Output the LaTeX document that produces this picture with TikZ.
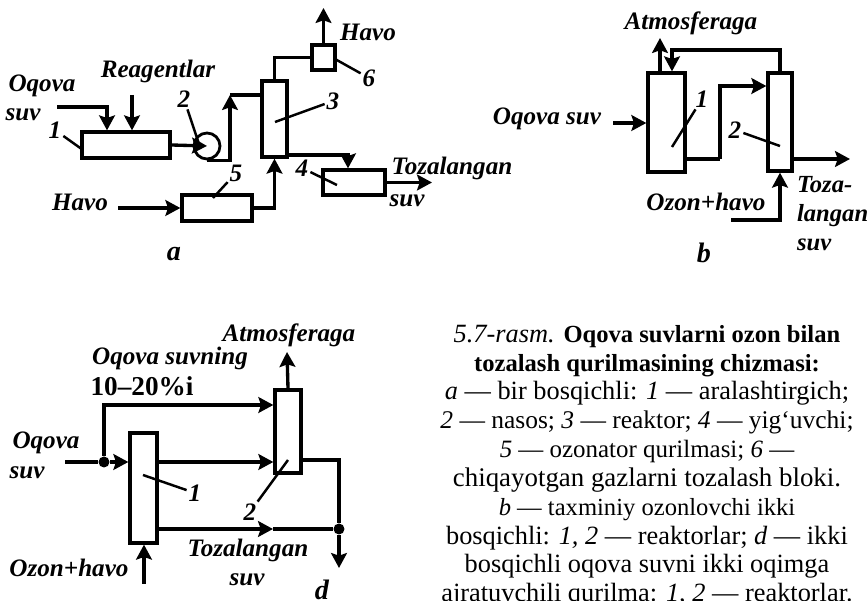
\documentclass[tikz,border=0pt]{standalone}
\usepackage{fontspec}
\setmainfont{Liberation Serif}
\usepackage{tikz}
\usetikzlibrary{positioning, arrows.meta}

\newcommand{\capbold}[1]{{\fontsize{14}{16.4}\selectfont\bfseries #1}}
\newcommand{\capsize}[1]{\fontsize{#1}{16.4}\selectfont}

\begin{document}
\begin{tikzpicture}[
        x = 0.02cm,
        y = -0.02cm,
        every node/.style = {
            inner sep = 1pt,
            font = \fontsize{14.3}{16}\selectfont\bfseries\itshape
        },
        unit/.style = {
            draw,
            rectangle,
            line width = 1.9pt,
            inner sep = 0pt
        },
        pumpunit/.style = {
            draw,
            circle,
            line width = 1.6pt,
            inner sep = 0pt,
            minimum size = 0.52cm
        },
        pipe/.style = {line width = 1.9pt},
        flow/.style = {
            line width = 1.9pt,
            -{Stealth[length = 8.5pt, width = 9pt, inset = 1.5pt]}
        },
        leader/.style = {line width = 1.4pt},
        junction/.style = {
            fill,
            circle,
            inner sep = 0pt,
            minimum size = 0.22cm
        },
        plate/.style = {font = \fontsize{16}{18}\selectfont\bfseries\itshape},
        caption/.style = {
            align = center,
            font = \fontsize{15}{16.4}\selectfont
        }
    ]
        \path[use as bounding box, clip] (0,0) rectangle (867,601);

        \node[unit, minimum width = 1.76cm, minimum height = 0.52cm] (mixerA) at (126,145) {};
        \node[pumpunit] (pumpA) at (207,146) {};
        \node[unit, minimum width = 0.5cm, minimum height = 1.52cm] (reactorA) at (274.5,119) {};
        \node[unit, minimum width = 0.46cm, minimum height = 0.5cm] (scrubberA) at (323.5,57.5) {};
        \node[unit, minimum width = 1.24cm, minimum height = 0.5cm] (collectorA) at (354,182.5) {};
        \node[unit, minimum width = 1.4cm, minimum height = 0.52cm] (ozonatorA) at (217,208) {};

        \node (oqovaA) at (42,86) {Oqova};
        \node (suvA) at (23,115) {suv};
        \node (reagentA) at (158,71) {Reagentlar};
        \node (havoTopA) at (368,32) {Havo};
        \node (havoLowA) at (80,202) {Havo};
        \node (cleanA) at (452,168) {Tozalangan};
        \node (cleanSuvA) at (407,201) {suv};
        \node (numOneA) at (55,130) {1};
        \node (numTwoA) at (184,99) {2};
        \node (numThreeA) at (333,101) {3};
        \node (numFourA) at (302,168) {4};
        \node (numFiveA) at (236,173) {5};
        \node (numSixA) at (369,78) {6};
        \node[plate] (plateA) at (174,254) {a};

        \coordinate (inA) at (57,107);
        \coordinate (reagentInA) at (132,95);
        \coordinate (riseA) at (230,95);
        \coordinate (ventA) at (323.5,8);
        \coordinate (airInA) at (118,208);
        \coordinate (outA) at (432,182.5);
        \coordinate (tipOneA) at (83,150);
        \coordinate (tipTwoA) at (200,147);
        \coordinate (tipThreeA) at (275,122);
        \coordinate (tipFourA) at (337,185);
        \coordinate (tipFiveA) at (213,198);
        \coordinate (tipSixA) at (335,59);

        \draw[flow] (inA) -| ([xshift = -0.38cm]mixerA.north);
        \draw[flow] (reagentInA) -- (reagentInA |- mixerA.north);
        \draw[flow] (mixerA.east) -- (pumpA.center);
        \draw[flow] (pumpA.south) -| (riseA);
        \draw[pipe] (riseA) -- (riseA -| reactorA.west);
        \draw[pipe] (reactorA.north) |- (scrubberA.west);
        \draw[flow] (scrubberA.north) -- (ventA);
        \draw[flow] ([yshift = -0.72cm]reactorA.east) -| ([xshift = -0.12cm]collectorA.north);
        \draw[flow] (collectorA.east) -- (outA);
        \draw[flow] (airInA) -- (ozonatorA.west);
        \draw[flow] (ozonatorA.east) -| (reactorA.south);
        \draw[leader] (numOneA) -- (tipOneA);
        \draw[leader] (numTwoA) -- (tipTwoA);
        \draw[leader] (numThreeA) -- (tipThreeA);
        \draw[leader] (numFourA) -- (tipFourA);
        \draw[leader] (numFiveA) -- (tipFiveA);
        \draw[leader] (numSixA) -- (tipSixA);

        \node[unit, minimum width = 0.74cm, minimum height = 1.98cm] (reactorOneB) at (666.5,122.5) {};
        \node[unit, minimum width = 0.48cm, minimum height = 1.96cm] (reactorTwoB) at (780,122) {};

        \node (atmB) at (691,23) {Atmosferaga};
        \node (oqovaB) at (547,119) {Oqova suv};
        \node (ozonB) at (706,202) {Ozon+havo};
        \node[align = left, anchor = north west, font = \fontsize{14}{16.7}\selectfont\bfseries\itshape] (cleanB) at (795,174) {Toza-\\langan\\suv};
        \node (numOneB) at (702,99) {1};
        \node (numTwoB) at (735,130) {2};
        \node[plate] (plateB) at (704,253) {b};

        \coordinate (ventB) at (660,38);
        \coordinate (inB) at (613,123);
        \coordinate (linkB) at (720,159);
        \coordinate (outB) at (850,159);
        \coordinate (ozonInB) at (731,220);
        \coordinate (returnB) at (672,50);
        \coordinate (tipOneB) at (672,147);
        \coordinate (tipTwoB) at (780,146);

        \draw[flow] (ventB |- reactorOneB.north) -- (ventB);
        \draw[flow] (reactorTwoB.north) |- (returnB) -- (returnB |- reactorOneB.north);
        \draw[pipe] (reactorOneB.east |- linkB) -- (linkB);
        \draw[flow] (linkB) |- ([yshift = 0.72cm]reactorTwoB.west);
        \draw[flow] (inB) -- (inB -| reactorOneB.west);
        \draw[flow] (reactorTwoB.east |- outB) -- (outB);
        \draw[flow] (ozonInB) -| (reactorTwoB.south);
        \draw[leader] (numOneB) -- (tipOneB);
        \draw[leader] (numTwoB) -- (tipTwoB);

        \node[unit, minimum width = 0.54cm, minimum height = 2.2cm] (reactorOneD) at (143.5,488) {};
        \node[unit, minimum width = 0.52cm, minimum height = 1.66cm] (reactorTwoD) at (288,431.5) {};
        \node[junction] (splitD) at (104,462) {};
        \node[junction] (mergeD) at (339,529) {};

        \node (atmD) at (289,335) {Atmosferaga};
        \node (partD) at (170,358) {Oqova suvning};
        \node[font = \fontsize{15.5}{16}\selectfont\bfseries] (shareD) at (142,386) {10--20\%i};
        \node (oqovaD) at (46,443) {Oqova};
        \node (suvD) at (27,473) {suv};
        \node (ozonD) at (69,568) {Ozon+havo};
        \node (cleanD) at (248,550) {Tozalangan};
        \node (cleanSuvD) at (247,580) {suv};
        \node (numOneD) at (195,493) {1};
        \node (numTwoD) at (250,512) {2};
        \node[plate] (plateD) at (322,590) {d};

        \coordinate (inD) at (65,462);
        \coordinate (ventD) at (287,352);
        \coordinate (ozonInD) at (144,584);
        \coordinate (bendD) at (339,460);
        \coordinate (midD) at (273,529);
        \coordinate (outD) at (339,568);
        \coordinate (tipOneD) at (143,475);
        \coordinate (tipTwoD) at (288,460);

        \draw[pipe] (inD) -- (splitD);
        \draw[flow] (splitD) -- (splitD -| reactorOneD.west);
        \draw[flow] (splitD) |- ([yshift = 0.53cm]reactorTwoD.west);
        \draw[flow] (reactorOneD.east |- splitD) -- (reactorTwoD.west |- splitD);
        \draw[flow] (reactorTwoD.north) -- (ventD);
        \draw[pipe] (reactorTwoD.east |- bendD) -- (bendD) -- (mergeD);
        \draw[flow] (mergeD) -- (outD);
        \draw[flow] (reactorOneD.east |- midD) -- (midD);
        \draw[pipe] (midD) -- (mergeD);
        \draw[flow] (ozonInD) -- (ozonInD |- reactorOneD.south);
        \draw[leader] (numOneD) -- (tipOneD);
        \draw[leader] (numTwoD) -- (tipTwoD);

        \node[caption, anchor = north] (captionText) at (647,323) {
            {\itshape 5.7-rasm.} \capbold{Oqova suvlarni ozon bilan}\\
            \capbold{tozalash qurilmasining chizmasi:}\\
            {\itshape a} --- bir bosqichli: {\itshape 1} --- aralashtirgich;\\
            {\capsize{14.5}{\itshape 2} --- nasos; {\itshape 3} --- reaktor; {\itshape 4} --- yig‘uvchi;}\\
            {\capsize{14.2}{\itshape 5} --- ozonator qurilmasi; {\itshape 6} ---}\\
            {\capsize{15.3}chiqayotgan gazlarni tozalash bloki.}\\
            {\capsize{14}{\itshape b} --- taxminiy ozonlovchi ikki}\\
            bosqichli: {\itshape 1, 2} --- reaktorlar; {\itshape d} --- ikki\\
            bosqichli oqova suvni ikki oqimga\\
            ajratuvchili qurilma: {\itshape 1, 2} --- reaktorlar.
        };
    \end{tikzpicture}
\end{document}
